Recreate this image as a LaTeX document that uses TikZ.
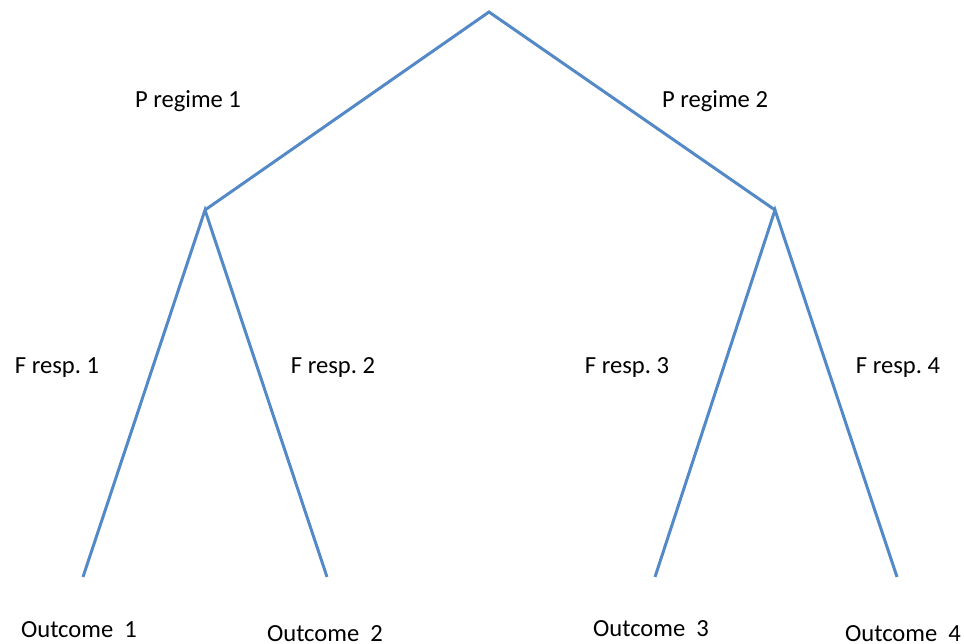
\documentclass[tikz,border=0pt]{standalone}
\usepackage{fontspec}
\setmainfont{Carlito}
\usepackage{tikz}
\usetikzlibrary{arrows.meta}
\definecolor{ramo}{RGB}{84,137,200}

\begin{document}
\begin{tikzpicture}[x=0.02cm,y=-0.02cm,
	ramo/.style={draw=ramo, line width=1.7pt, line join=miter},
	etich/.style={font=\fontsize{14}{17}\selectfont, inner sep=0pt}]
		\useasboundingbox (0,0) rectangle (964,644);
		% Nodi dell'albero
		\coordinate (R) at (489,12);
		\coordinate (P1) at (205,210);
		\coordinate (P2) at (775,210);
		\coordinate (O1) at (83,577);
		\coordinate (O2) at (327,577);
		\coordinate (O3) at (655,577);
		\coordinate (O4) at (897,577);
		% Rami
		\draw [ramo] (P1) -- (R) -- (P2);
		\draw [ramo] (O1) -- (P1) -- (O2);
		\draw [ramo] (O3) -- (P2) -- (O4);
		% NOMI
		\node [etich] (lp1) at (188,101) {P regime 1};
		\node [etich] (lp2) at (715,101) {P regime 2};
		\node [etich] (lf1) at (57,368) {F resp.\ 1};
		\node [etich] (lf2) at (333,368) {F resp.\ 2};
		\node [etich] (lf3) at (627,368) {F resp.\ 3};
		\node [etich] (lf4) at (898,368) {F resp.\ 4};
		\node [etich] (lo1) at (79,630) {Outcome\ \ 1};
		\node [etich] (lo2) at (325,634) {Outcome\ \ 2};
		\node [etich] (lo3) at (651,629) {Outcome\ \ 3};
		\node [etich] (lo4) at (903,634) {Outcome\ \ 4};
	\end{tikzpicture}
\end{document}
